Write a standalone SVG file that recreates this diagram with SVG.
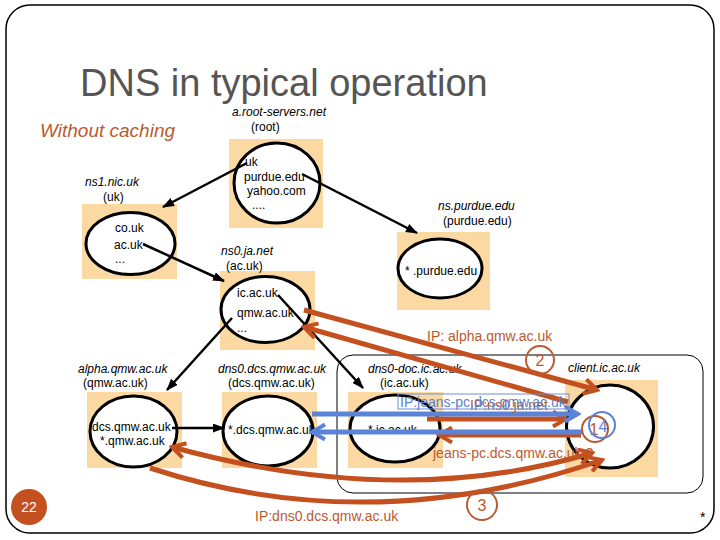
<svg xmlns="http://www.w3.org/2000/svg" width="720" height="540" viewBox="0 0 720 540">
<defs>
<style>
.sq{fill:#fcd9a2}
.el{fill:#fff;stroke:#000;stroke-width:3}
.t{font-family:"Liberation Sans",Arial,sans-serif;font-size:12px;fill:#000}
.it{font-style:italic}
.lk{stroke:#000;stroke-width:2.5;fill:none;marker-end:url(#bh)}
.red{stroke:#c5501f;stroke-width:5;fill:none}
.blue{stroke:#5b84d8;stroke-width:5;fill:none}
.rl{font-family:"Liberation Sans",Arial,sans-serif;font-size:14px;fill:#b95a30}
.bl{font-family:"Liberation Sans",Arial,sans-serif;font-size:14px;fill:#5b7fd0}
.stepr{fill:none;stroke:#b95a30;stroke-width:2}
.stepb{fill:none;stroke:#5b84d8;stroke-width:2}
.num{font-family:"Liberation Sans",Arial,sans-serif;font-size:16px;text-anchor:middle}
</style>
<marker id="bh" viewBox="0 0 12 9" markerWidth="12" markerHeight="9" refX="11" refY="4.5" markerUnits="userSpaceOnUse" orient="auto">
<path d="M0,0 L12,4.5 L0,9 z" fill="#000"/>
</marker>
<marker id="rh" viewBox="0 0 18 18" markerWidth="18" markerHeight="18" refX="15" refY="9" markerUnits="userSpaceOnUse" orient="auto-start-reverse">
<path d="M2,1.5 L15,9 L2,16.5" fill="none" stroke="#c5501f" stroke-width="4"/>
</marker>
<marker id="bhd" viewBox="0 0 18 18" markerWidth="18" markerHeight="18" refX="15" refY="9" markerUnits="userSpaceOnUse" orient="auto-start-reverse">
<path d="M2,1.5 L15,9 L2,16.5" fill="none" stroke="#5b84d8" stroke-width="4"/>
</marker>
</defs>
<rect width="720" height="540" fill="#fff"/>
<rect x="6" y="5" width="708" height="528" rx="24" fill="none" stroke="#000" stroke-width="1.5"/>
<text x="80" y="96" font-family="Liberation Sans, Arial, sans-serif" font-size="38" fill="#555">DNS in typical operation</text>
<text x="40" y="137" font-family="Liberation Sans, Arial, sans-serif" font-size="19" font-style="italic" fill="#b95a30">Without caching</text>
<rect id="client-box" x="337" y="355" width="366" height="138" rx="16" fill="none" stroke="#000" stroke-width="1"/>

<g id="root">
<rect class="sq" x="229" y="139" width="94" height="89"/>
<ellipse class="el" cx="277" cy="183" rx="43" ry="40"/>
<text class="t" x="245" y="166">uk</text>
<text class="t" x="244" y="181">purdue.edu</text>
<text class="t" x="247" y="195">yahoo.com</text>
<text class="t" x="252" y="209">....</text>
<text class="t it" x="232" y="116">a.root-servers.net</text>
<text class="t" x="251" y="131">(root)</text>
</g>
<g id="ns1-nic-uk">
<rect class="sq" x="82" y="204" width="95" height="75"/>
<ellipse class="el" cx="130.5" cy="243.5" rx="44.5" ry="31"/>
<text class="t" x="115" y="232">co.uk</text>
<text class="t" x="114" y="249">ac.uk</text>
<text class="t" x="115" y="263">...</text>
<text class="t it" x="85" y="186">ns1.nic.uk</text>
<text class="t" x="103" y="201">(uk)</text>
</g>
<g id="ns0-ja-net">
<rect class="sq" x="220" y="271" width="95" height="79"/>
<ellipse class="el" cx="265.5" cy="309.5" rx="44.5" ry="33"/>
<text class="t" x="237" y="297">ic.ac.uk</text>
<text class="t" x="237" y="317">qmw.ac.uk</text>
<text class="t" x="237" y="332">...</text>
<text class="t it" x="221" y="255">ns0.ja.net</text>
<text class="t" x="226" y="270">(ac.uk)</text>
</g>
<g id="ns-purdue-edu">
<rect class="sq" x="397" y="232" width="93" height="78"/>
<ellipse class="el" cx="440" cy="268.5" rx="42" ry="29.5"/>
<text class="t" x="405" y="275">* .purdue.edu</text>
<text class="t it" x="438" y="210">ns.purdue.edu</text>
<text class="t" x="443" y="225">(purdue.edu)</text>
</g>
<g id="alpha-qmw-ac-uk">
<rect class="sq" x="87" y="392" width="95" height="76"/>
<ellipse class="el" cx="133.5" cy="431.5" rx="43.5" ry="35.5"/>
<text class="t" x="92" y="431">dcs.qmw.ac.uk</text>
<text class="t" x="100" y="445">*.qmw.ac.uk</text>
<text class="t it" x="78" y="373">alpha.qmw.ac.uk</text>
<text class="t" x="83" y="387">(qmw.ac.uk)</text>
</g>
<g id="dns0-dcs-qmw-ac-uk">
<rect class="sq" x="222" y="392" width="95" height="76"/>
<ellipse class="el" cx="268" cy="431" rx="45" ry="35"/>
<text class="t" x="228" y="434">*.dcs.qmw.ac.uk</text>
<text class="t it" x="218" y="373">dns0.dcs.qmw.ac.uk</text>
<text class="t" x="228" y="387">(dcs.qmw.ac.uk)</text>
</g>
<g id="dns0-doc-ic-ac-uk">
<rect class="sq" x="348" y="392" width="95" height="76"/>
<ellipse class="el" cx="395" cy="428.5" rx="45" ry="33.5"/>
<text class="t" x="368" y="434">*.ic.ac.uk</text>
<text class="t it" x="368" y="373">dns0-doc.ic.ac.uk</text>
<text class="t" x="380" y="387">(ic.ac.uk)</text>
</g>
<g id="client-ic-ac-uk">
<rect class="sq" x="565" y="380" width="93" height="97"/>
<ellipse class="el" cx="610" cy="426.5" rx="43.5" ry="41.5"/>
<text class="t it" x="568" y="372">client.ic.ac.uk</text>
</g>

<g id="connectors">
<line class="lk" x1="247" y1="163" x2="163" y2="207"/>
<line class="lk" x1="302" y1="174" x2="417" y2="233"/>
<line class="lk" x1="143" y1="244" x2="224" y2="281"/>
<line class="lk" x1="278" y1="295" x2="363" y2="388"/>
<line class="lk" x1="232" y1="318" x2="167" y2="390"/>
<line class="lk" x1="172" y1="428" x2="224" y2="428"/>
<line class="red" x1="568" y1="402" x2="304" y2="327" marker-end="url(#rh)"/>
<line class="red" x1="304" y1="310" x2="597" y2="390" marker-end="url(#rh)"/>
<line class="red" x1="427" y1="419" x2="566" y2="419" marker-end="url(#rh)"/>
<line class="red" x1="581" y1="435" x2="439" y2="435" marker-end="url(#rh)"/>
<path class="red" d="M172,447 Q400,510 592,453" marker-start="url(#rh)" marker-end="url(#rh)"/>
<path class="red" d="M150,468 Q370,540 602,460" marker-end="url(#rh)"/>
<line class="blue" x1="312" y1="414" x2="578" y2="414" marker-end="url(#bhd)"/>
<line class="blue" x1="582" y1="432" x2="312" y2="432" marker-end="url(#bhd)"/>
<text class="rl" x="427" y="341">IP: alpha.qmw.ac.uk</text>
<text class="rl" x="470" y="410">IP:ns0.ja.net</text>
<rect x="398" y="394" width="171" height="15" fill="none" stroke="#6d8fd8" stroke-width="1"/>
<text class="bl" x="400" y="407">IP:jeans-pc.dcs.qmw.ac.uk</text>
<text class="rl" x="433" y="458">jeans-pc.dcs.qmw.ac.uk ?</text>
<text class="rl" x="255" y="521">IP:dns0.dcs.qmw.ac.uk</text>
</g>

<g id="steps">
<circle class="stepr" cx="540" cy="360" r="14"/>
<text class="num" x="540" y="366" fill="#b95a30">2</text>
<circle class="stepr" cx="482" cy="505" r="15"/>
<text class="num" x="482" y="511" fill="#b95a30">3</text>
<circle class="stepr" cx="595" cy="429" r="13"/>
<text class="num" x="594" y="435" fill="#b95a30">1</text>
<circle class="stepb" cx="602" cy="425" r="13"/>
<text class="num" x="603" y="432" fill="#5b84d8">4</text>
</g>

<g id="page-number">
<circle cx="29" cy="507" r="18" fill="#c5501f"/>
<text x="29" y="512" font-family="Liberation Sans, Arial, sans-serif" font-size="14" fill="#fff" text-anchor="middle">22</text>
<text x="700" y="522" font-family="Liberation Sans, Arial, sans-serif" font-size="14" fill="#000">*</text>
</g>
</svg>
